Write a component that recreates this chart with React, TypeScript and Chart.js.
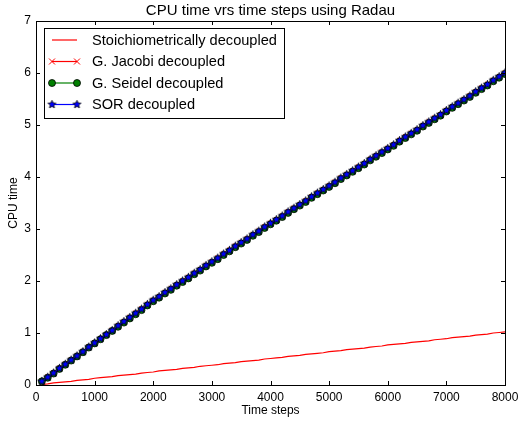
import React, { useEffect, useRef } from "react";
import { Chart, registerables } from "chart.js";

Chart.register(...registerables);

const TITLE = "CPU time vrs time steps using Radau";
const X_LABEL = "Time steps";
const Y_LABEL = "CPU time";

const timeSteps = [
  100, 200, 300, 400, 500, 600, 700, 800, 900, 1000,
  1100, 1200, 1300, 1400, 1500, 1600, 1700, 1800, 1900, 2000,
  2100, 2200, 2300, 2400, 2500, 2600, 2700, 2800, 2900, 3000,
  3100, 3200, 3300, 3400, 3500, 3600, 3700, 3800, 3900, 4000,
  4100, 4200, 4300, 4400, 4500, 4600, 4700, 4800, 4900, 5000,
  5100, 5200, 5300, 5400, 5500, 5600, 5700, 5800, 5900, 6000,
  6100, 6200, 6300, 6400, 6500, 6600, 6700, 6800, 6900, 7000,
  7100, 7200, 7300, 7400, 7500, 7600, 7700, 7800, 7900, 8000,
];

const stoichiometric = [
  0.01, 0.02, 0.04, 0.05, 0.06, 0.07, 0.09, 0.10, 0.11, 0.13,
  0.14, 0.15, 0.16, 0.18, 0.19, 0.20, 0.21, 0.23, 0.24, 0.25,
  0.27, 0.28, 0.29, 0.30, 0.32, 0.33, 0.34, 0.36, 0.37, 0.38,
  0.39, 0.41, 0.42, 0.43, 0.45, 0.46, 0.47, 0.48, 0.50, 0.51,
  0.52, 0.53, 0.55, 0.56, 0.57, 0.59, 0.60, 0.61, 0.62, 0.64,
  0.65, 0.66, 0.68, 0.69, 0.70, 0.71, 0.73, 0.74, 0.75, 0.77,
  0.78, 0.79, 0.80, 0.82, 0.83, 0.84, 0.85, 0.87, 0.88, 0.89,
  0.91, 0.92, 0.93, 0.94, 0.96, 0.97, 0.98, 1.00, 1.01, 1.02,
];

const jacobi = [
  0.08, 0.16, 0.24, 0.33, 0.41, 0.49, 0.57, 0.65, 0.74, 0.82,
  0.90, 0.98, 1.06, 1.15, 1.23, 1.31, 1.39, 1.47, 1.56, 1.64,
  1.71, 1.79, 1.86, 1.94, 2.01, 2.08, 2.16, 2.23, 2.31, 2.38,
  2.45, 2.53, 2.60, 2.68, 2.75, 2.82, 2.90, 2.97, 3.05, 3.12,
  3.19, 3.26, 3.34, 3.41, 3.48, 3.55, 3.63, 3.70, 3.77, 3.84,
  3.91, 3.99, 4.06, 4.13, 4.20, 4.27, 4.35, 4.42, 4.49, 4.56,
  4.63, 4.71, 4.78, 4.85, 4.92, 5.00, 5.07, 5.14, 5.21, 5.29,
  5.36, 5.43, 5.50, 5.57, 5.65, 5.72, 5.79, 5.87, 5.94, 6.01,
];

const seidel = [
  0.07, 0.14, 0.22, 0.31, 0.39, 0.47, 0.55, 0.63, 0.72, 0.80,
  0.88, 0.96, 1.04, 1.12, 1.20, 1.28, 1.36, 1.44, 1.53, 1.61,
  1.68, 1.76, 1.83, 1.91, 1.98, 2.05, 2.13, 2.20, 2.28, 2.35,
  2.42, 2.50, 2.57, 2.65, 2.72, 2.79, 2.87, 2.94, 3.02, 3.09,
  3.16, 3.23, 3.31, 3.38, 3.45, 3.52, 3.60, 3.67, 3.74, 3.81,
  3.88, 3.96, 4.03, 4.10, 4.17, 4.24, 4.32, 4.39, 4.46, 4.53,
  4.60, 4.68, 4.75, 4.82, 4.89, 4.97, 5.04, 5.11, 5.18, 5.26,
  5.33, 5.40, 5.47, 5.54, 5.62, 5.69, 5.76, 5.84, 5.91, 5.98,
];

const sor = [
  0.07, 0.15, 0.23, 0.32, 0.40, 0.48, 0.56, 0.64, 0.73, 0.81,
  0.89, 0.97, 1.05, 1.14, 1.22, 1.30, 1.38, 1.46, 1.55, 1.63,
  1.70, 1.78, 1.85, 1.93, 2.00, 2.07, 2.15, 2.22, 2.30, 2.37,
  2.44, 2.52, 2.59, 2.67, 2.74, 2.81, 2.89, 2.96, 3.04, 3.11,
  3.18, 3.25, 3.33, 3.40, 3.47, 3.54, 3.62, 3.69, 3.76, 3.83,
  3.90, 3.98, 4.05, 4.12, 4.19, 4.26, 4.34, 4.41, 4.48, 4.55,
  4.62, 4.70, 4.77, 4.84, 4.91, 4.99, 5.06, 5.13, 5.20, 5.28,
  5.35, 5.42, 5.49, 5.56, 5.64, 5.71, 5.78, 5.86, 5.93, 6.00,
];

const xTicks = [0, 1000, 2000, 3000, 4000, 5000, 6000, 7000, 8000];
const yTicks = [0, 1, 2, 3, 4, 5, 6, 7];

const FONT = "'Liberation Sans', Arial, Helvetica, sans-serif";

function makeStar(fill: string, r: number): HTMLCanvasElement {
  const size = Math.ceil(r * 2 + 2);
  const c = document.createElement("canvas");
  c.width = size;
  c.height = size;
  const ctx = c.getContext("2d")!;
  const cx = size / 2;
  const cy = size / 2;
  ctx.beginPath();
  for (let i = 0; i < 10; i++) {
    const rad = i % 2 === 0 ? r : r * 0.45;
    const a = -Math.PI / 2 + (i * Math.PI) / 5;
    const px = cx + rad * Math.cos(a);
    const py = cy + rad * Math.sin(a);
    if (i === 0) ctx.moveTo(px, py);
    else ctx.lineTo(px, py);
  }
  ctx.closePath();
  ctx.fillStyle = fill;
  ctx.fill();
  ctx.lineWidth = 0.8;
  ctx.strokeStyle = "#000";
  ctx.stroke();
  return c;
}

export default function App() {
  const ref = useRef<HTMLCanvasElement | null>(null);

  useEffect(() => {
    document.body.style.margin = "0";
    const canvas = ref.current!;
    const star = makeStar("#0000ff", 4.2);

    const pts = (ys: number[]) => timeSteps.map((x, i) => ({ x, y: ys[i] }));

    const framePlugin = {
      id: "mplFrame",
      afterDraw(chart: any) {
        const { ctx, chartArea } = chart;
        const { left, right, top, bottom } = chartArea;
        const xs = chart.scales.x;
        const ys = chart.scales.y;
        ctx.save();
        ctx.strokeStyle = "#000";
        ctx.lineWidth = 1;
        const tl = 4;
        ctx.beginPath();
        xTicks.forEach((v) => {
          const px = Math.round(xs.getPixelForValue(v)) + 0.5;
          ctx.moveTo(px, bottom);
          ctx.lineTo(px, bottom - tl);
          ctx.moveTo(px, top);
          ctx.lineTo(px, top + tl);
        });
        yTicks.forEach((v) => {
          const py = Math.round(ys.getPixelForValue(v)) + 0.5;
          ctx.moveTo(left, py);
          ctx.lineTo(left + tl, py);
          ctx.moveTo(right, py);
          ctx.lineTo(right - tl, py);
        });
        ctx.stroke();
        ctx.strokeRect(Math.round(left) + 0.5, Math.round(top) + 0.5, Math.round(right - left), Math.round(bottom - top));

        ctx.fillStyle = "#000";
        ctx.font = `15px ${FONT}`;
        ctx.textAlign = "center";
        ctx.textBaseline = "middle";
        ctx.fillText(TITLE, (left + right) / 2, 11);

        ctx.font = `12px ${FONT}`;
        ctx.fillText(X_LABEL, (left + right) / 2, 411);
        ctx.save();
        ctx.translate(14, (top + bottom) / 2);
        ctx.rotate(-Math.PI / 2);
        ctx.fillText(Y_LABEL, 0, 0);
        ctx.restore();

        const bx = 44, by = 28, bw = 240, bh = 90;
        ctx.fillStyle = "#fff";
        ctx.fillRect(bx, by, bw, bh);
        ctx.strokeRect(bx + 0.5, by + 0.5, bw, bh);
        const rows = [40, 61.5, 83, 104.5];
        const legendOrder = [0, 1, 2, 3];
        ctx.font = `14.6px ${FONT}`;
        ctx.textAlign = "left";
        legendOrder.forEach((di, r) => {
          const ds = chart.data.datasets[di];
          const y = rows[r];
          const x0 = 52, x1 = 77;
          ctx.strokeStyle = ds.borderColor;
          ctx.lineWidth = ds.borderWidth;
          ctx.beginPath();
          ctx.moveTo(x0, y);
          ctx.lineTo(x1, y);
          ctx.stroke();
          [x0, x1].forEach((mx) => {
            if (ds.legendMarker === "cross") {
              ctx.strokeStyle = "#ff0000";
              ctx.lineWidth = 1;
              ctx.beginPath();
              ctx.moveTo(mx - 3, y - 3);
              ctx.lineTo(mx + 3, y + 3);
              ctx.moveTo(mx - 3, y + 3);
              ctx.lineTo(mx + 3, y - 3);
              ctx.stroke();
            } else if (ds.legendMarker === "circle") {
              ctx.beginPath();
              ctx.arc(mx, y, 3.5, 0, Math.PI * 2);
              ctx.fillStyle = "#008000";
              ctx.fill();
              ctx.strokeStyle = "#000";
              ctx.lineWidth = 0.8;
              ctx.stroke();
            } else if (ds.legendMarker === "star") {
              ctx.drawImage(star, mx - star.width / 2, y - star.height / 2);
            }
          });
          ctx.fillStyle = "#000";
          ctx.fillText(ds.label, 92, y + 0.5);
        });
        ctx.restore();
      },
    };

    const chart = new Chart(canvas, {
      type: "line",
      data: {
        datasets: [
          {
            label: "Stoichiometrically decoupled",
            data: pts(stoichiometric),
            borderColor: "#ff0000",
            borderWidth: 1.2,
            pointRadius: 0,
            order: 3,
            legendMarker: "none",
          } as any,
          {
            label: "G. Jacobi decoupled",
            data: pts(jacobi),
            borderColor: "#ff0000",
            borderWidth: 1.2,
            pointStyle: "crossRot",
            pointRadius: 3,
            pointBorderColor: "#ff0000",
            pointBorderWidth: 1,
            order: 2,
            legendMarker: "cross",
          } as any,
          {
            label: "G. Seidel decoupled",
            data: pts(seidel),
            borderColor: "#008000",
            borderWidth: 1.2,
            pointStyle: "circle",
            pointRadius: 3.5,
            pointBackgroundColor: "#008000",
            pointBorderColor: "#000",
            pointBorderWidth: 0.8,
            order: 1,
            legendMarker: "circle",
          } as any,
          {
            label: "SOR decoupled",
            data: pts(sor),
            borderColor: "#0000ff",
            borderWidth: 1.2,
            pointStyle: star,
            pointRadius: 4,
            order: 0,
            legendMarker: "star",
          } as any,
        ],
      },
      options: {
        responsive: false,
        animation: false,
        events: [],
        layout: { padding: { top: 21, right: 14, left: 0, bottom: 0 } },
        plugins: {
          legend: { display: false },
          title: { display: false },
          tooltip: { enabled: false },
        },
        scales: {
          x: {
            type: "linear",
            min: 0,
            max: 8000,
            afterFit: (s: any) => {
              s.height = 40;
              s.paddingLeft = 0;
              s.paddingRight = 0;
            },
            afterBuildTicks: (s: any) => {
              s.ticks = xTicks.map((v) => ({ value: v }));
            },
            grid: { display: false, drawTicks: false },
            border: { display: false },
            ticks: {
              padding: 5,
              color: "#000",
              font: { family: FONT, size: 12 },
              maxRotation: 0,
              autoSkip: false,
              callback: (v: any) => String(v),
            },
          },
          y: {
            type: "linear",
            min: 0,
            max: 7,
            afterFit: (s: any) => {
              s.width = 36;
              s.paddingTop = 0;
              s.paddingBottom = 0;
            },
            afterBuildTicks: (s: any) => {
              s.ticks = yTicks.map((v) => ({ value: v }));
            },
            grid: { display: false, drawTicks: false },
            border: { display: false },
            ticks: {
              padding: 5,
              color: "#000",
              font: { family: FONT, size: 12 },
              autoSkip: false,
              callback: (v: any) => String(v),
            },
          },
        },
      } as any,
      plugins: [framePlugin],
    });

    return () => chart.destroy();
  }, []);

  return (
    <div style={{ width: 519, height: 425, background: "#fff" }}>
      <canvas ref={ref} width={519} height={425} style={{ display: "block" }} />
    </div>
  );
}
